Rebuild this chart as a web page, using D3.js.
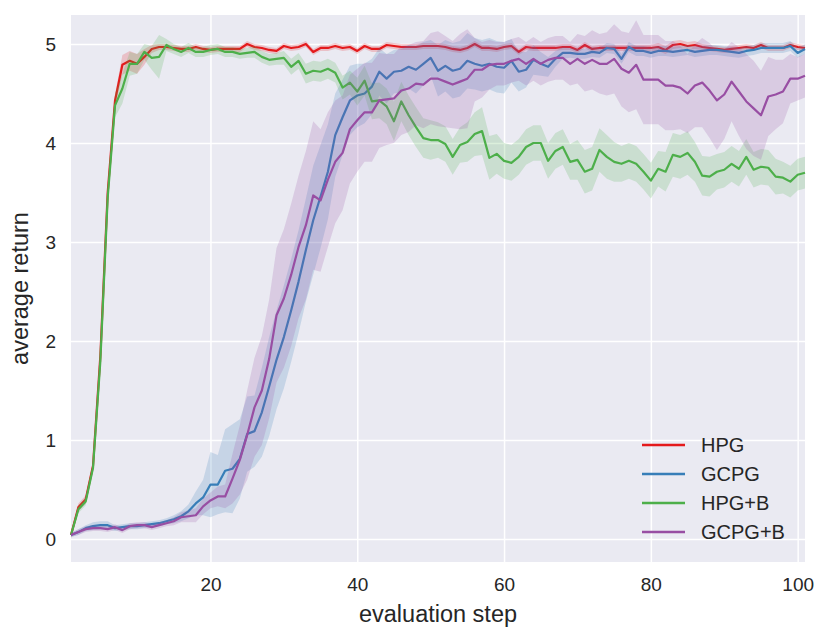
<!DOCTYPE html>
<html>
<head>
<meta charset="utf-8">
<script src="https://cdn.jsdelivr.net/npm/d3@7"></script>
<style>
  html, body { margin: 0; padding: 0; background: #fff; }
  svg { display: block; font-family: "Liberation Sans", Arial, sans-serif; }
</style>
</head>
<body>
<svg id="chart" width="830" height="641"></svg>
<script>
// evaluation steps 1..101
const steps = d3.range(1, 102);

const seriesNames = ["HPG", "GCPG", "HPG+B", "GCPG+B"];
const seriesColors = ["#e41a1c", "#377eb8", "#4daf4a", "#984ea3"];

// mean return per step
const hpg = [
  0.04, 0.32, 0.40, 0.74, 1.85, 3.50, 4.43, 4.79, 4.83, 4.80,
  4.87, 4.95, 4.97, 4.97, 4.96, 4.95, 4.95, 4.97, 4.95, 4.94,
  4.95, 4.95, 4.95, 4.95, 5.00, 4.97, 4.96, 4.94, 4.93, 4.98,
  4.96, 4.97, 5.00, 4.92, 4.96, 4.96, 4.98, 4.96, 4.97, 4.93,
  4.98, 4.95, 4.95, 4.99, 4.98, 4.97, 4.97, 4.97, 4.98, 4.98,
  4.98, 4.97, 4.95, 4.94, 4.96, 5.00, 4.96, 4.96, 4.95, 4.97,
  4.98, 4.92, 4.97, 4.96, 4.96, 4.96, 4.96, 4.97, 4.97, 4.94,
  4.99, 4.95, 4.96, 4.96, 4.96, 4.96, 4.96, 4.96, 4.96, 4.96,
  4.97, 4.94, 4.99, 5.00, 4.98, 4.99, 4.97, 4.96, 4.95, 4.94,
  4.95, 4.96, 4.97, 4.96, 4.99, 4.96, 4.96, 4.96, 4.99, 4.97,
  4.96
];
const gcpg = [
  0.04, 0.07, 0.11, 0.13, 0.14, 0.14, 0.11, 0.12, 0.13, 0.13,
  0.14, 0.15, 0.16, 0.18, 0.20, 0.23, 0.28, 0.36, 0.42, 0.55,
  0.55, 0.69, 0.71, 0.81, 1.06, 1.09, 1.28, 1.54, 1.81, 2.04,
  2.31, 2.60, 2.92, 3.22, 3.46, 3.71, 4.08, 4.26, 4.43, 4.48,
  4.50, 4.57, 4.72, 4.65, 4.72, 4.73, 4.77, 4.74, 4.80, 4.86,
  4.73, 4.78, 4.73, 4.75, 4.83, 4.80, 4.78, 4.80, 4.77, 4.76,
  4.83, 4.72, 4.74, 4.84, 4.80, 4.77, 4.85, 4.91, 4.91, 4.90,
  4.90, 4.92, 4.91, 4.96, 4.95, 4.85, 4.97, 4.93, 4.93, 4.91,
  4.93, 4.93, 4.92, 4.93, 4.94, 4.92, 4.93, 4.94, 4.94, 4.93,
  4.92, 4.91, 4.93, 4.94, 4.96, 4.96, 4.96, 4.96, 4.98, 4.91,
  4.95
];
const hpgB = [
  0.04, 0.30, 0.38, 0.72, 1.80, 3.45, 4.38, 4.55, 4.80, 4.80,
  4.92, 4.86, 4.87, 4.99, 4.95, 4.92, 4.96, 4.92, 4.92, 4.94,
  4.95, 4.92, 4.92, 4.90, 4.91, 4.92, 4.87, 4.84, 4.85, 4.86,
  4.77, 4.83, 4.70, 4.73, 4.72, 4.75, 4.71, 4.56, 4.61, 4.52,
  4.63, 4.42, 4.43, 4.37, 4.22, 4.42, 4.28, 4.16, 4.05, 4.03,
  4.03, 3.99, 3.86, 3.98, 4.01, 4.09, 4.12, 3.85, 3.89, 3.82,
  3.80, 3.86, 3.96, 4.00, 4.00, 3.82, 3.92, 3.96, 3.81, 3.83,
  3.71, 3.74, 3.93, 3.86, 3.81, 3.79, 3.82, 3.79, 3.71, 3.62,
  3.74, 3.71, 3.88, 3.86, 3.90, 3.81, 3.67, 3.66, 3.71, 3.73,
  3.79, 3.74, 3.86, 3.73, 3.76, 3.75, 3.66, 3.65, 3.61, 3.68,
  3.70
];
const gcpgB = [
  0.04, 0.07, 0.10, 0.11, 0.11, 0.10, 0.12, 0.09, 0.13, 0.14,
  0.14, 0.12, 0.14, 0.16, 0.18, 0.22, 0.23, 0.24, 0.33, 0.39,
  0.43, 0.43, 0.61, 0.80, 1.05, 1.33, 1.50, 1.82, 2.26, 2.43,
  2.67, 2.95, 3.17, 3.47, 3.42, 3.63, 3.81, 3.90, 4.14, 4.23,
  4.31, 4.31, 4.43, 4.44, 4.45, 4.53, 4.55, 4.60, 4.59, 4.65,
  4.65, 4.62, 4.59, 4.62, 4.65, 4.74, 4.74, 4.79, 4.80, 4.80,
  4.83, 4.85, 4.80, 4.85, 4.80, 4.84, 4.86, 4.86, 4.80, 4.85,
  4.80, 4.84, 4.80, 4.80, 4.85, 4.75, 4.71, 4.79, 4.64, 4.64,
  4.64, 4.58, 4.58, 4.56, 4.50, 4.58, 4.61, 4.53, 4.43, 4.49,
  4.62, 4.52, 4.42, 4.35, 4.28, 4.47, 4.49, 4.52, 4.65, 4.65,
  4.68
];

// half-width of the shaded band per step
const hpgSpread = [
  0.03, 0.04, 0.04, 0.04, 0.05, 0.05, 0.06, 0.10, 0.10, 0.10,
  0.08, 0.04, 0.03, 0.03, 0.03, 0.03, 0.03, 0.03, 0.03, 0.03,
  0.03, 0.03, 0.03, 0.03, 0.03, 0.03, 0.03, 0.03, 0.03, 0.03,
  0.03, 0.03, 0.03, 0.03, 0.03, 0.03, 0.03, 0.03, 0.03, 0.03,
  0.03, 0.03, 0.03, 0.03, 0.03, 0.03, 0.03, 0.03, 0.03, 0.03,
  0.03, 0.03, 0.03, 0.03, 0.03, 0.03, 0.03, 0.03, 0.03, 0.03,
  0.03, 0.03, 0.03, 0.03, 0.03, 0.03, 0.03, 0.03, 0.03, 0.03,
  0.03, 0.03, 0.03, 0.03, 0.03, 0.03, 0.03, 0.03, 0.03, 0.03,
  0.04, 0.04, 0.04, 0.04, 0.04, 0.04, 0.03, 0.03, 0.03, 0.03,
  0.03, 0.03, 0.03, 0.03, 0.03, 0.03, 0.03, 0.03, 0.03, 0.03,
  0.03
];
const gcpgSpread = [
  0.02, 0.03, 0.03, 0.04, 0.04, 0.04, 0.03, 0.03, 0.03, 0.03,
  0.03, 0.03, 0.03, 0.03, 0.04, 0.05, 0.07, 0.12, 0.18, 0.33,
  0.30, 0.42, 0.45, 0.40, 0.38, 0.36, 0.45, 0.50, 0.50, 0.52,
  0.52, 0.52, 0.52, 0.55, 0.52, 0.48, 0.42, 0.38, 0.35, 0.32,
  0.30, 0.28, 0.24, 0.25, 0.22, 0.22, 0.22, 0.24, 0.22, 0.18,
  0.26, 0.26, 0.28, 0.28, 0.28, 0.26, 0.26, 0.26, 0.26, 0.26,
  0.22, 0.20, 0.18, 0.15, 0.12, 0.10, 0.08, 0.06, 0.05, 0.05,
  0.05, 0.05, 0.05, 0.05, 0.05, 0.05, 0.05, 0.05, 0.05, 0.05,
  0.05, 0.05, 0.05, 0.05, 0.05, 0.05, 0.05, 0.05, 0.05, 0.05,
  0.05, 0.05, 0.05, 0.05, 0.05, 0.05, 0.05, 0.05, 0.05, 0.05,
  0.05
];
const hpgBSpread = [
  0.03, 0.04, 0.04, 0.05, 0.06, 0.08, 0.12, 0.15, 0.12, 0.10,
  0.08, 0.12, 0.22, 0.06, 0.05, 0.05, 0.05, 0.05, 0.05, 0.05,
  0.05, 0.05, 0.05, 0.05, 0.05, 0.06, 0.06, 0.06, 0.06, 0.07,
  0.08, 0.08, 0.10, 0.10, 0.10, 0.10, 0.10, 0.12, 0.12, 0.14,
  0.15, 0.18, 0.18, 0.18, 0.20, 0.20, 0.20, 0.20, 0.20, 0.20,
  0.18, 0.18, 0.18, 0.18, 0.20, 0.22, 0.24, 0.22, 0.20, 0.18,
  0.18, 0.18, 0.18, 0.18, 0.18, 0.18, 0.18, 0.18, 0.18, 0.20,
  0.22, 0.22, 0.22, 0.22, 0.20, 0.18, 0.18, 0.18, 0.18, 0.18,
  0.18, 0.20, 0.22, 0.22, 0.22, 0.20, 0.20, 0.20, 0.18, 0.18,
  0.18, 0.18, 0.18, 0.18, 0.18, 0.18, 0.18, 0.16, 0.16, 0.16,
  0.16
];
const gcpgBSpread = [
  0.02, 0.03, 0.03, 0.03, 0.03, 0.03, 0.03, 0.03, 0.03, 0.03,
  0.03, 0.03, 0.03, 0.03, 0.04, 0.05, 0.06, 0.07, 0.08, 0.08,
  0.10, 0.12, 0.25, 0.35, 0.45, 0.50, 0.55, 0.60, 0.68, 0.70,
  0.72, 0.72, 0.75, 0.75, 0.72, 0.68, 0.62, 0.58, 0.55, 0.52,
  0.50, 0.50, 0.48, 0.46, 0.45, 0.45, 0.44, 0.42, 0.44, 0.46,
  0.48, 0.46, 0.44, 0.48, 0.50, 0.32, 0.28, 0.25, 0.22, 0.22,
  0.22, 0.22, 0.22, 0.22, 0.22, 0.22, 0.22, 0.22, 0.22, 0.25,
  0.28, 0.30, 0.30, 0.32, 0.35, 0.38, 0.40, 0.45, 0.45, 0.45,
  0.45, 0.45, 0.45, 0.42, 0.40, 0.42, 0.45, 0.48, 0.50, 0.45,
  0.40, 0.45, 0.48, 0.48, 0.45, 0.40, 0.35, 0.32, 0.25, 0.22,
  0.22
];

const xTicks = [20, 40, 60, 80, 100];
const yTicks = [0, 1, 2, 3, 4, 5];

const series = [
  { name: seriesNames[0], color: seriesColors[0], mean: hpg, spread: hpgSpread },
  { name: seriesNames[1], color: seriesColors[1], mean: gcpg, spread: gcpgSpread },
  { name: seriesNames[2], color: seriesColors[2], mean: hpgB, spread: hpgBSpread },
  { name: seriesNames[3], color: seriesColors[3], mean: gcpgB, spread: gcpgBSpread }
];

const margin = { top: 15, right: 25, bottom: 79, left: 71 };
const W = 830, H = 641;
const w = W - margin.left - margin.right;
const h = H - margin.top - margin.bottom;
const textColor = "#262626";

const svg = d3.select("#chart");
const g = svg.append("g").attr("transform", `translate(${margin.left},${margin.top})`);

const x = d3.scaleLinear().domain([1, 101]).range([0, w]);
const y = d3.scaleLinear().domain([-0.232, 5.293]).range([h, 0]);

g.append("rect").attr("width", w).attr("height", h).attr("fill", "#eaeaf2");

// grid + tick labels
const xAxis = g.append("g")
  .attr("transform", `translate(0,${h})`)
  .call(d3.axisBottom(x).tickValues(xTicks).tickFormat(d3.format("d")).tickSize(-h).tickPadding(16));
const yAxis = g.append("g")
  .call(d3.axisLeft(y).tickValues(yTicks).tickFormat(d3.format("d")).tickSize(-w).tickPadding(15));

[xAxis, yAxis].forEach(a => {
  a.select(".domain").remove();
  a.selectAll(".tick line").attr("stroke", "#fff").attr("stroke-width", 1.5);
  a.selectAll(".tick text")
    .attr("fill", textColor)
    .attr("font-size", "19px")
    .attr("font-family", "Liberation Sans, Arial, sans-serif");
});

const plot = g.append("g");
const area = d3.area()
  .x((d, i) => x(steps[i]))
  .y0(d => y(d.lo))
  .y1(d => y(d.hi));
const line = d3.line()
  .x((d, i) => x(steps[i]))
  .y(d => y(d));

series.forEach(s => {
  const band = s.mean.map((m, i) => ({ lo: m - s.spread[i], hi: m + s.spread[i] }));
  plot.append("path")
    .datum(band)
    .attr("d", area)
    .attr("fill", s.color)
    .attr("fill-opacity", 0.2)
    .attr("stroke", "none");
  plot.append("path")
    .datum(s.mean)
    .attr("d", line)
    .attr("fill", "none")
    .attr("stroke", s.color)
    .attr("stroke-width", 2.2)
    .attr("stroke-linejoin", "round");
});

// axis labels
g.append("text")
  .attr("x", w / 2)
  .attr("y", h + 60)
  .attr("text-anchor", "middle")
  .attr("fill", textColor)
  .attr("font-size", "23.5px")
  .text("evaluation step");

g.append("text")
  .attr("transform", `translate(${28 - margin.left},${h / 2}) rotate(-90)`)
  .attr("text-anchor", "middle")
  .attr("fill", textColor)
  .attr("font-size", "23.5px")
  .text("average return");

// legend
const legend = g.append("g").attr("transform", `translate(${642 - margin.left},${445 - margin.top})`);
series.forEach((s, i) => {
  const row = legend.append("g").attr("transform", `translate(0,${i * 29})`);
  row.append("line")
    .attr("x1", 0).attr("x2", 43)
    .attr("stroke", s.color)
    .attr("stroke-width", 2.6);
  row.append("text")
    .attr("x", 59)
    .attr("dy", "0.36em")
    .attr("fill", textColor)
    .attr("font-size", "20px")
    .text(s.name);
});
</script>
</body>
</html>
